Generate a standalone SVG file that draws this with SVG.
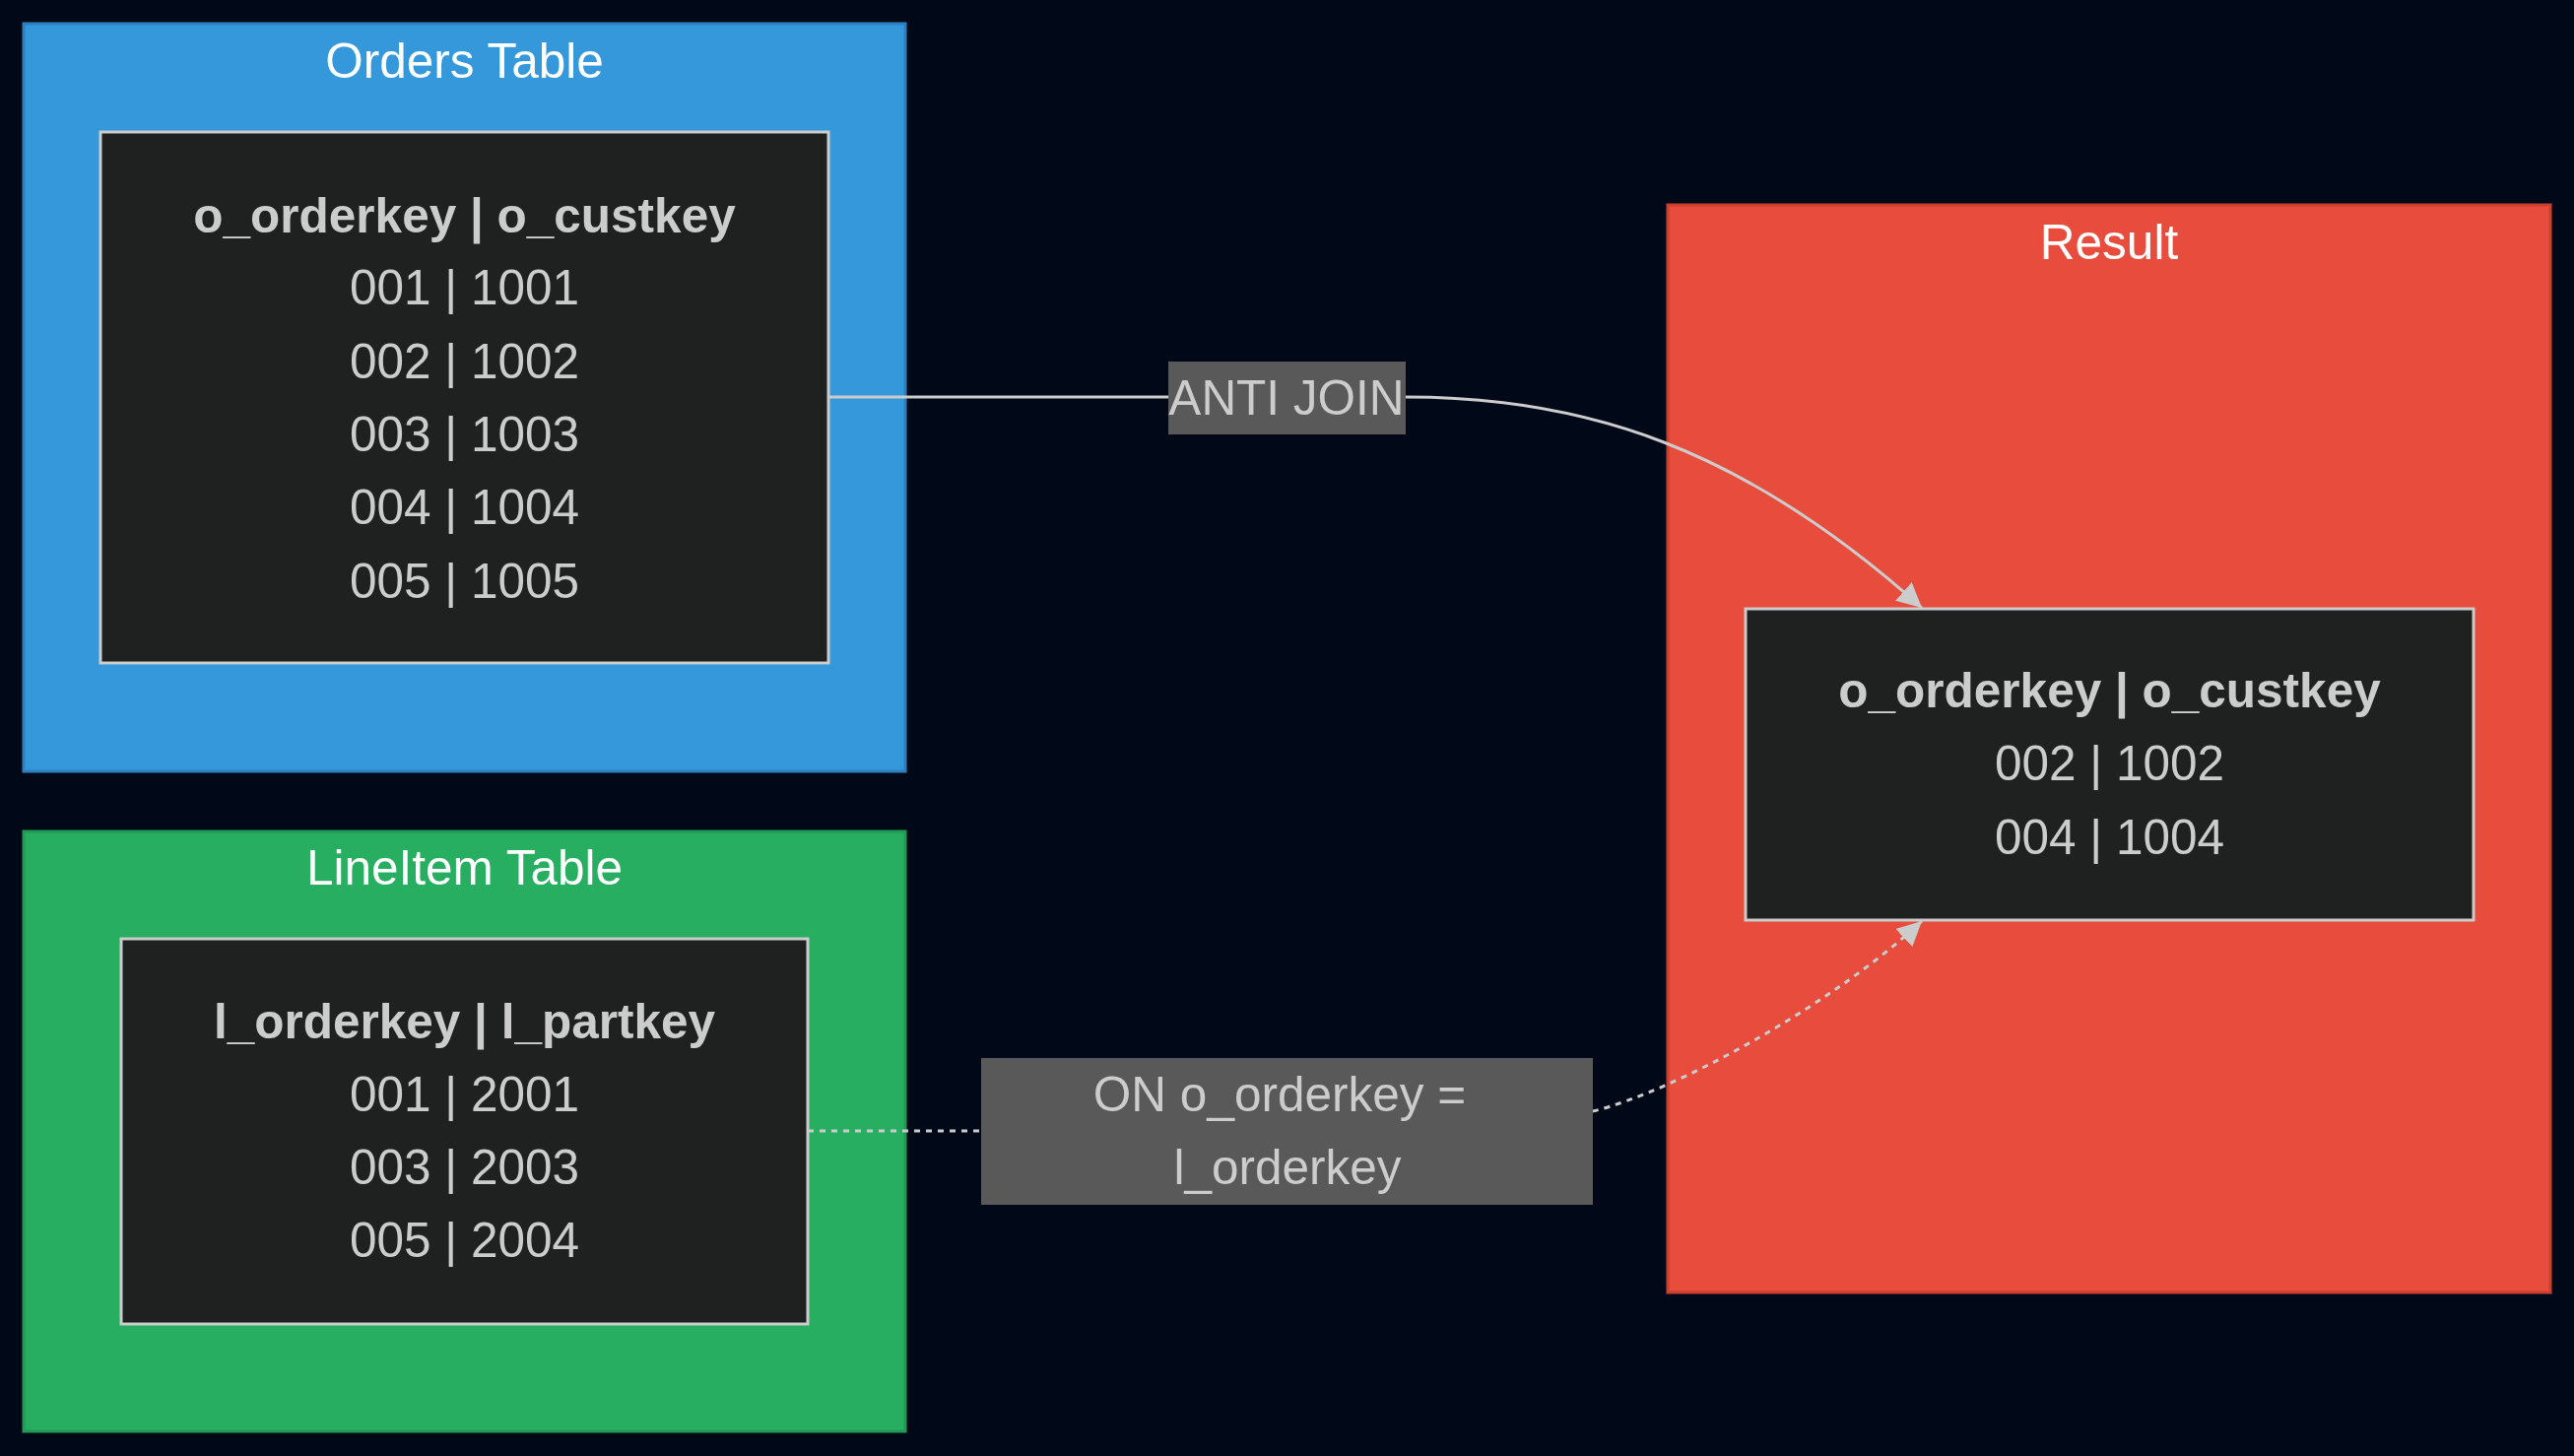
<svg xmlns="http://www.w3.org/2000/svg" width="2613" height="1478" viewBox="0 0 2613 1478">
<style>
.title{font-family:"Liberation Sans",Arial,sans-serif;font-size:49.5px;fill:#ffffff;text-anchor:middle}
.node rect{fill:#1f2020;stroke:#cccccc;stroke-width:3}
.t{font-family:"Liberation Sans",Arial,sans-serif;font-size:49.5px;fill:#cccccc;text-anchor:middle}
.b{font-weight:bold}
.lbl{fill:#595959}
.edge{fill:none;stroke:#cccccc;stroke-width:3}
.dot{stroke-dasharray:6 6}
</style>
<defs>
<marker id="arrow" markerUnits="userSpaceOnUse" viewBox="0 0 10 10" markerWidth="25" markerHeight="25" refX="10" refY="5" orient="auto">
<path d="M0,0 L10,5 L0,10 z" fill="#cccccc"/>
</marker>
</defs>
<rect width="2613" height="1478" fill="#010818"/>
<g id="cluster-orders">
<rect x="24" y="24" width="895" height="759" fill="#3498db" stroke="#2c80bd" stroke-width="3"/>
<text class="title" x="471.5" y="79">Orders Table</text>
</g>
<g id="cluster-lineitem">
<rect x="24" y="844" width="895" height="609" fill="#27ae60" stroke="#229a53" stroke-width="3"/>
<text class="title" x="471.5" y="898">LineItem Table</text>
</g>
<g id="cluster-result">
<rect x="1693" y="208" width="896" height="1104" fill="#e74c3c" stroke="#c9402f" stroke-width="3"/>
<text class="title" x="2141" y="263">Result</text>
</g>
<g id="edges">
<path class="edge" d="M841,403 L1427,403 C1610,403 1770,455 1951,617" marker-end="url(#arrow)"/>
<path class="edge dot" d="M820,1148 L1000,1148 M1617,1128 C1700,1108 1860,1020 1951,935" marker-end="url(#arrow)"/>
</g>
<g id="label-anti-join">
<rect class="lbl" x="1186" y="367" width="241" height="74"/>
<text class="t" x="1306" y="421">ANTI JOIN</text>
</g>
<g id="label-on">
<rect class="lbl" x="996" y="1074" width="621" height="149"/>
<text class="t" x="1299" y="1128">ON o_orderkey =</text>
<text class="t" x="1307" y="1202">l_orderkey</text>
</g>
<g id="node-orders" class="node">
<rect x="102" y="134" width="739" height="539"/>
<text class="t b" x="471.5" y="235.5">o_orderkey | o_custkey</text>
<text class="t" x="471.5" y="309">001 | 1001</text>
<text class="t" x="471.5" y="383.5">002 | 1002</text>
<text class="t" x="471.5" y="458">003 | 1003</text>
<text class="t" x="471.5" y="532">004 | 1004</text>
<text class="t" x="471.5" y="606.5">005 | 1005</text>
</g>
<g id="node-lineitem" class="node">
<rect x="123" y="953" width="697" height="391"/>
<text class="t b" x="471.5" y="1053.5">l_orderkey | l_partkey</text>
<text class="t" x="471.5" y="1128">001 | 2001</text>
<text class="t" x="471.5" y="1202">003 | 2003</text>
<text class="t" x="471.5" y="1276">005 | 2004</text>
</g>
<g id="node-result" class="node">
<rect x="1772" y="618" width="739" height="316"/>
<text class="t b" x="2141.5" y="718">o_orderkey | o_custkey</text>
<text class="t" x="2141.5" y="792">002 | 1002</text>
<text class="t" x="2141.5" y="866.5">004 | 1004</text>
</g>
</svg>
